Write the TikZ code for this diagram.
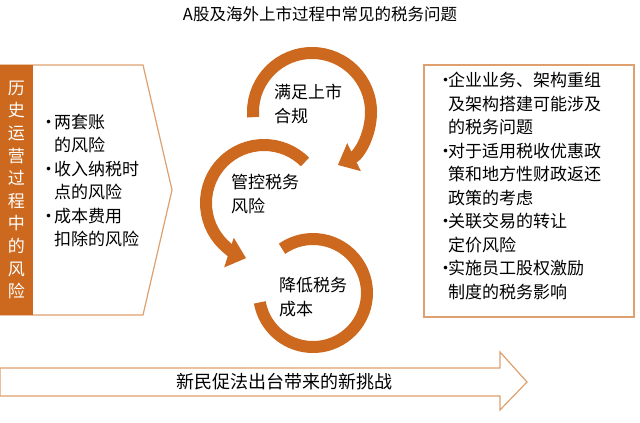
\documentclass[tikz,border=0pt]{standalone}
\usepackage{fontspec}
\setmainfont{Noto Sans CJK SC}
\usetikzlibrary{arrows.meta}
\definecolor{org}{RGB}{205,105,30}
\definecolor{lorg}{RGB}{222,160,110}
\tikzset{
  ring/.style={draw=org,line width=12pt},
  ringarrow/.style={ring,-{Triangle[width=30pt,length=18pt]}},
  outl/.style={draw=lorg,line width=1.2pt,fill=white},
  txt/.style={font=\fontsize{17}{24}\selectfont,align=left,anchor=north west,inner sep=0pt},
  lst/.style={font=\fontsize{17}{23.5}\selectfont,align=left,anchor=north west,inner sep=0pt,text width=#1},
}
\begin{document}
\begin{tikzpicture}[x=1pt,y=-1pt]
\useasboundingbox (0,0) rectangle (640,423);
\node (title) at (320,14) {\fontsize{16.5}{18}\selectfont A股及海外上市过程中常见的税务问题};
% left chevron
\draw[outl] (0,65) -- (143,65) -- (172,190) -- (143,315) -- (0,315) -- cycle;
\fill[org] (0,65) rectangle (33,315);
\node[inner sep=0pt,text=white,align=center,font=\fontsize{17}{22.6}\selectfont] (hist) at (16.5,190) {历\\史\\运\\营\\过\\程\\中\\的\\风\\险};
\node[lst=4.5cm] (left) at (40,114) {%
\makebox[14pt][l]{·}两套账\\\hspace*{14pt}的风险\\
\makebox[14pt][l]{·}收入纳税时\\\hspace*{14pt}点的风险\\
\makebox[14pt][l]{·}成本费用\\\hspace*{14pt}扣除的风险};
% right box
\draw[outl] (424,65) rectangle (634,317);
\node[lst=7cm] (right) at (437,72) {%
\makebox[11pt][l]{·}企业业务、架构重组\\\hspace*{11pt}及架构搭建可能涉及\\\hspace*{11pt}的税务问题\\
\makebox[11pt][l]{·}对于适用税收优惠政\\\hspace*{11pt}策和地方性财政返还\\\hspace*{11pt}政策的考虑\\
\makebox[11pt][l]{·}关联交易的转让\\\hspace*{11pt}定价风险\\
\makebox[11pt][l]{·}实施员工股权激励\\\hspace*{11pt}制度的税务影响};
% rings
\coordinate (c1) at (312,112);
\coordinate (c2) at (264,203);
\coordinate (c3) at (313,293);
\draw[ring] ([shift={(-125:54)}]c3) arc[start angle=-125,end angle=170,radius=54];
\draw[ringarrow] ([shift={(-45:58)}]c2) arc[start angle=-45,end angle=-252,radius=58];
\draw[ringarrow] ([shift={(-185:59)}]c1) arc[start angle=-185,end angle=64,radius=59];
\node[txt] (n1) at (274,84) {满足上市\\合规};
\node[txt] (n2) at (231,174) {管控税务\\风险};
\node[txt] (n3) at (279,277) {降低税务\\成本};
% bottom arrow
\draw[outl] (0,368) -- (500,368) -- (500,352) -- (527,382) -- (500,410) -- (500,396) -- (0,396) -- cycle;
\node[font=\fontsize{18}{20}\selectfont] (bottom) at (284,382) {新民促法出台带来的新挑战};
\end{tikzpicture}
\end{document}
